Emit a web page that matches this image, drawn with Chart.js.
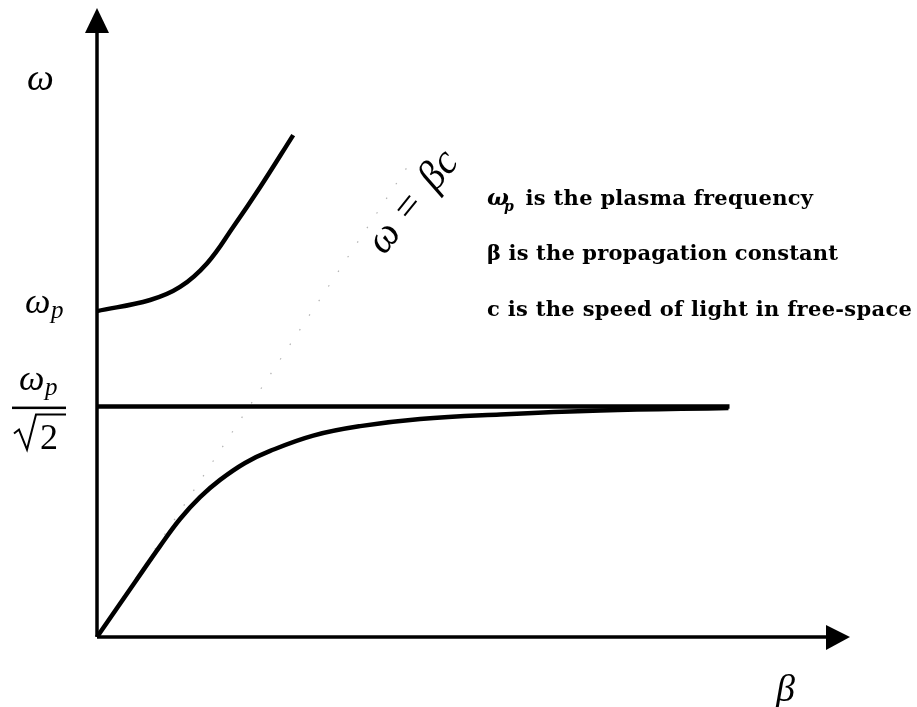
<!DOCTYPE html>
<html>
<head>
<meta charset="utf-8">
<script src="https://cdn.jsdelivr.net/npm/chart.js@4.4.1/dist/chart.umd.min.js"></script>
<style>
  html, body { margin: 0; padding: 0; background: #fff; }
  #wrap { width: 917px; height: 707px; }
</style>
</head>
<body>
<div id="wrap"><canvas id="myChart" width="917" height="707"></canvas></div>
<script>
// dispersion curves, omega in units of omega_p, beta in units of omega_p / c
const upperBeta  = [0, 0.247, 0.386, 0.512, 0.633, 0.758, 0.912];
const upperOmega = [1.0, 1.034, 1.074, 1.147, 1.258, 1.38, 1.54];

const lowerBeta  = [0, 0.177, 0.293, 0.386, 0.479, 0.572, 0.688, 0.805, 1.005, 1.223, 1.502, 1.874, 2.34, 2.935];
const lowerOmega = [0, 0.169, 0.279, 0.362, 0.429, 0.482, 0.534, 0.571, 0.618, 0.647, 0.669, 0.683, 0.695, 0.703];

const asymBeta  = [0, 2.94];
const asymOmega = [0.707, 0.707];

const lightBeta  = [0, 1.46];
const lightOmega = [0, 1.46];

const betaMax = 3.5;
const omegaMax = 1.93;

const noteLines = [
  " is the plasma frequency",
  "β is the propagation constant",
  "c is the speed of light in free-space"
];
const noteEnds = [813, 838, 912];

const pts = (xs, ys) => xs.map((x, i) => ({ x: x, y: ys[i] }));

const curve = (data, width) => ({
  data: data,
  borderColor: "#000",
  borderWidth: width,
  pointRadius: 0,
  tension: 0.4,
  fill: false,
  clip: false
});

// draw text stretched by letter spacing so it ends at xEnd
function fitText(ctx, txt, x, y, xEnd) {
  ctx.letterSpacing = "0px";
  const w = ctx.measureText(txt).width;
  const gap = (xEnd - x - w) / (txt.length - 1);
  ctx.letterSpacing = gap.toFixed(2) + "px";
  ctx.fillText(txt, x, y);
  ctx.letterSpacing = "0px";
}

// arrow heads, axis labels and the text notes
const decorations = {
  id: "decorations",
  afterDatasetsDraw(chart) {
    const ctx = chart.ctx;
    const xs = chart.scales.x, ys = chart.scales.y;
    const x0 = xs.getPixelForValue(0), y0 = ys.getPixelForValue(0);
    const xEnd = xs.getPixelForValue(betaMax), yEnd = ys.getPixelForValue(omegaMax);

    ctx.save();
    ctx.fillStyle = "#000";
    ctx.strokeStyle = "#000";
    ctx.beginPath();
    ctx.moveTo(x0, yEnd);
    ctx.lineTo(x0 - 12, yEnd + 25);
    ctx.lineTo(x0 + 12, yEnd + 25);
    ctx.closePath();
    ctx.fill();
    ctx.beginPath();
    ctx.moveTo(xEnd, y0);
    ctx.lineTo(xEnd - 24, y0 - 12);
    ctx.lineTo(xEnd - 24, y0 + 13);
    ctx.closePath();
    ctx.fill();

    ctx.textBaseline = "alphabetic";
    ctx.textAlign = "left";

    // omega label on the vertical axis
    ctx.font = "italic 38px 'Liberation Serif'";
    ctx.fillText("ω", 27, 90);

    // omega_p tick
    const yP = ys.getPixelForValue(1);
    ctx.font = "italic 36px 'Liberation Serif'";
    ctx.fillText("ω", 25, yP + 2);
    ctx.font = "italic 25px 'Liberation Serif'";
    ctx.fillText("p", 51, yP + 7);

    // omega_p / sqrt(2) tick
    const yA = ys.getPixelForValue(asymOmega[0]);
    ctx.font = "italic 36px 'Liberation Serif'";
    ctx.fillText("ω", 19, yA - 17);
    ctx.font = "italic 25px 'Liberation Serif'";
    ctx.fillText("p", 45, yA - 12);
    ctx.fillRect(12, yA, 54, 2.5);
    ctx.lineWidth = 2;
    ctx.lineJoin = "miter";
    ctx.beginPath();
    ctx.moveTo(14, yA + 27);
    ctx.lineTo(19, yA + 23);
    ctx.lineTo(27, yA + 43);
    ctx.lineTo(36, yA + 8);
    ctx.lineTo(66, yA + 8);
    ctx.stroke();
    ctx.font = "36px 'Liberation Serif'";
    ctx.fillText("2", 40, yA + 42);

    // beta label under the horizontal axis
    ctx.font = "italic 38px 'Liberation Serif'";
    ctx.fillText("β", 776, y0 + 64);

    // light line label, rotated along the line
    ctx.save();
    ctx.translate(384, 256);
    ctx.rotate(-51 * Math.PI / 180);
    ctx.font = "italic 41px 'Liberation Serif'";
    ctx.fillText("ω", 0, 0);
    ctx.font = "41px 'Liberation Serif'";
    ctx.fillText("=", 42, 0);
    ctx.font = "italic 41px 'Liberation Serif'";
    ctx.fillText("βc", 82, 0);
    ctx.restore();

    // notes
    const base = [205, 260, 316];
    ctx.font = "italic bold 23px 'DejaVu Serif'";
    ctx.fillText("ω", 487, base[0]);
    ctx.font = "italic bold 14px 'DejaVu Serif'";
    ctx.fillText("p", 504, base[0] + 6);
    ctx.font = "bold 21px 'DejaVu Serif'";
    fitText(ctx, noteLines[0], 518, base[0], noteEnds[0]);
    fitText(ctx, noteLines[1], 487, base[1], noteEnds[1]);
    fitText(ctx, noteLines[2], 487, base[2], noteEnds[2]);
    ctx.restore();
  }
};

new Chart("myChart", {
  type: "line",
  data: {
    datasets: [
      {
        data: pts(lightBeta, lightOmega),
        borderColor: "rgba(0,0,0,0.3)",
        borderWidth: 1.2,
        borderDash: [1.5, 16],
        pointRadius: 0,
        clip: false
      },
      curve(pts([0, 0], [0, omegaMax - 0.05]), 3.5),
      curve(pts([0, betaMax - 0.08], [0, 0]), 3.5),
      curve(pts(asymBeta, asymOmega), 4.5),
      curve(pts(upperBeta, upperOmega), 4.5),
      curve(pts(lowerBeta, lowerOmega), 4.5)
    ]
  },
  options: {
    responsive: false,
    animation: false,
    events: [],
    layout: { padding: { left: 97, top: 8, right: 67, bottom: 70 } },
    plugins: { legend: { display: false }, tooltip: { enabled: false }, title: { display: false } },
    scales: {
      x: { type: "linear", min: 0, max: betaMax, display: false },
      y: { type: "linear", min: 0, max: omegaMax, display: false }
    }
  },
  plugins: [decorations]
});
</script>
</body>
</html>
